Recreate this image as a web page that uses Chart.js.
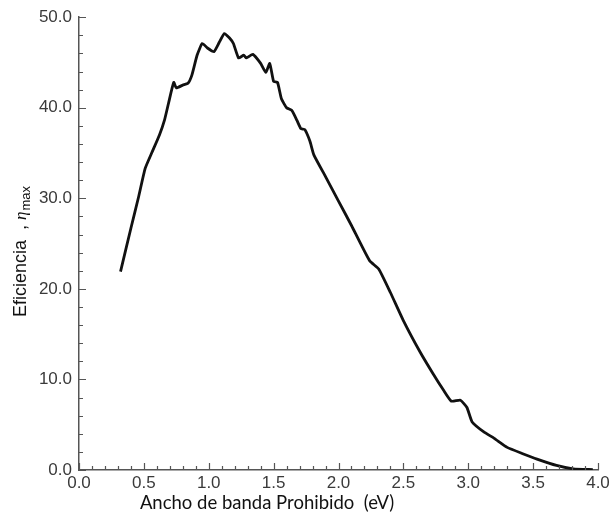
<!DOCTYPE html>
<html>
<head>
<meta charset="utf-8">
<script src="https://cdn.jsdelivr.net/npm/chart.js@4.4.1/dist/chart.umd.min.js"></script>
<style>
  html, body { margin: 0; padding: 0; background: #fff; }
  canvas { display: block; }
</style>
</head>
<body>
<canvas id="myChart" width="616" height="520"></canvas>
<script>
// band gap (eV) and max efficiency (%)
var gap_ev = [0.32, 0.40, 0.46, 0.51, 0.56, 0.62, 0.66, 0.69, 0.73, 0.75,
              0.80, 0.84, 0.87, 0.91, 0.95, 0.99, 1.04, 1.08, 1.12, 1.16,
              1.19, 1.23, 1.27, 1.29, 1.34, 1.40, 1.44, 1.47, 1.50, 1.53,
              1.56, 1.60, 1.64, 1.68, 1.71, 1.74, 1.78, 1.81, 1.90, 2.00,
              2.10, 2.24, 2.31, 2.40, 2.50, 2.63, 2.73, 2.81, 2.87, 2.94,
              2.99, 3.03, 3.12, 3.20, 3.30, 3.42, 3.53, 3.68, 3.81, 3.96];
var eficiencia = [21.9, 26.7, 30.2, 33.3, 35.0, 37.0, 38.7, 40.5, 42.8, 42.2,
                  42.5, 42.7, 43.6, 45.8, 47.1, 46.6, 46.2, 47.2, 48.2, 47.7,
                  47.1, 45.5, 45.8, 45.5, 45.9, 44.9, 43.9, 44.9, 42.9, 42.8,
                  41.0, 40.0, 39.7, 38.6, 37.7, 37.6, 36.3, 34.8, 32.4, 29.7,
                  27.0, 23.1, 22.2, 19.6, 16.5, 13.0, 10.6, 8.8, 7.6, 7.7,
                  6.9, 5.3, 4.2, 3.5, 2.5, 1.8, 1.2, 0.5, 0.13, 0.05];

var x_ticks_major = [0.0, 0.5, 1.0, 1.5, 2.0, 2.5, 3.0, 3.5, 4.0];
var y_ticks_major = [0.0, 10.0, 20.0, 30.0, 40.0, 50.0];
var x_title = 'Ancho de banda Prohibido  (eV)';
var y_title = 'Eficiencia  , ';

var puntos = [];
for( var i=0; i<gap_ev.length; i++ )
{
	puntos.push({ x: gap_ev[i], y: eficiencia[i] });
}

// inward ticks + axis titles
var ticksDentro = {
	id: 'ticksDentro',
	afterDraw: function(chart) {
		var c = chart.ctx;
		var xs = chart.scales.x, ys = chart.scales.y;
		var area = chart.chartArea;
		c.save();
		c.strokeStyle = '#555';
		c.lineWidth = 1.2;
		c.beginPath();
		for( var v=0; v<=40; v++ )
		{
			var px = Math.round(xs.getPixelForValue(v/10)) + 0.5;
			var len = (v % 5 == 0) ? 7 : 4;
			c.moveTo(px, area.bottom);
			c.lineTo(px, area.bottom - len);
		}
		for( var w=0; w<=25; w++ )
		{
			var py = Math.round(ys.getPixelForValue(w*2)) + 0.5;
			var len2 = (w % 5 == 0) ? 7 : 4;
			c.moveTo(area.left, py);
			c.lineTo(area.left + len2, py);
		}
		c.stroke();

		// x title
		c.fillStyle = '#111';
		c.font = '18.5px Lato, "Open Sans", sans-serif';
		c.textAlign = 'center';
		c.textBaseline = 'middle';
		c.fillText(x_title, 267, 503);

		// y title, rotated (reads bottom to top)
		c.translate(26, 317);
		c.rotate(-Math.PI/2);
		c.textAlign = 'left';
		c.textBaseline = 'alphabetic';
		c.font = '18px "Liberation Sans", Arial, sans-serif';
		var w0 = c.measureText(y_title).width;
		c.fillText(y_title, 0, 0);
		c.font = 'italic 17px "Liberation Serif", serif';
		var w1 = c.measureText('\u03B7').width;
		c.fillText('\u03B7', w0, 0);
		c.font = '13px "Liberation Sans", Arial, sans-serif';
		c.fillText('max', w0 + w1 + 1, 4);
		c.restore();
	}
};

var ctx = document.getElementById("myChart").getContext("2d");
var myChart = new Chart(ctx, {
	type: 'line',
	data: {
		datasets: [{
			label: 'eficiencia',
			data: puntos,
			borderColor: '#111',
			borderWidth: 2.8,
			pointRadius: 0,
			tension: 0.15,
			fill: false
		}]
	},
	options: {
		responsive: false,
		animation: false,
		layout: { padding: { top: 16, right: 18, left: 0, bottom: 0 } },
		plugins: {
			legend: { display: false },
			tooltip: { enabled: false }
		},
		scales: {
			x: {
				type: 'linear',
				min: 0, max: 4,
				afterFit: function(scale) { scale.height = 50; },
				afterBuildTicks: function(scale) {
					scale.ticks = x_ticks_major.map(function(v){ return { value: v }; });
				},
				grid: { display: false, drawTicks: false },
				border: { display: true, color: '#555', width: 1.5 },
				ticks: {
					padding: 3,
					color: '#3a3a3a',
					font: { family: '"Liberation Sans", Arial, sans-serif', size: 17 },
					callback: function(v) { return Number(v).toFixed(1); }
				}
			},
			y: {
				min: 0, max: 50,
				afterFit: function(scale) { scale.width = 79; },
				afterBuildTicks: function(scale) {
					scale.ticks = y_ticks_major.map(function(v){ return { value: v }; });
				},
				grid: { display: false, drawTicks: false },
				border: { display: true, color: '#555', width: 1.5 },
				ticks: {
					padding: 7,
					color: '#3a3a3a',
					font: { family: '"Liberation Sans", Arial, sans-serif', size: 17 },
					callback: function(v) { return Number(v).toFixed(1); }
				}
			}
		}
	},
	plugins: [ticksDentro]
});
</script>
</body>
</html>
